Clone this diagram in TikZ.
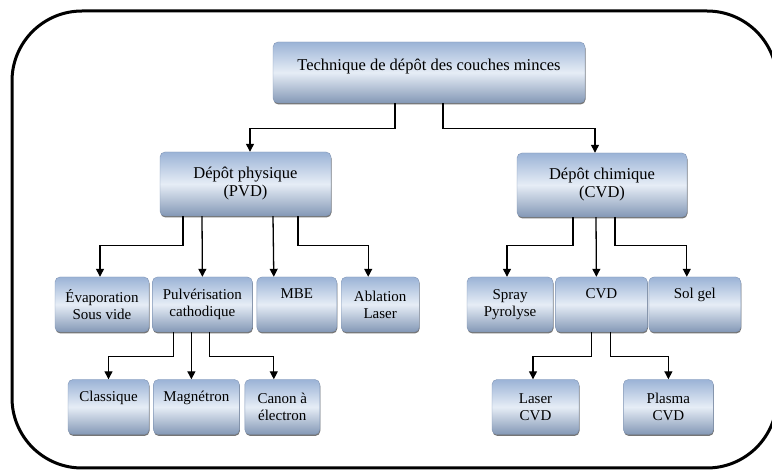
\documentclass[tikz,border=0pt]{standalone}
\usepackage{fontspec}
\setmainfont{Liberation Serif}
\usetikzlibrary{arrows.meta, positioning, shadows}

\definecolor{boxedge}{HTML}{9BB3D6}
\definecolor{boxmid}{HTML}{E6EDF6}
\definecolor{boxline}{HTML}{8196B6}

\begin{document}
\begin{tikzpicture}[
x=1pt, y=-1pt,
box/.style={draw=boxline, rounded corners=5pt, top color=boxedge, bottom color=boxedge!85!black, middle color=boxmid, align=center, inner sep=0pt, drop shadow={shadow xshift=0.5pt, shadow yshift=-1.5pt, fill=black!60, opacity=0.9}},
bigbox/.style={box, font=\fontsize{16.5}{18}\selectfont},
smallbox/.style={box, minimum height=55pt, font=\fontsize{15}{17}\selectfont},
arrow/.style={-{Triangle[length=8pt, width=8pt]}, line width=1.3pt}
]
\useasboundingbox (0,0) rectangle (772,470);
\draw[line width=3pt, rounded corners=70pt] (12,11) rectangle (777,468);

% main levels
\node[bigbox, minimum width=312pt, minimum height=61pt] (tech) at (429,72.5) {Technique de dépôt des couches minces\\[-7pt]\strut};
\node[bigbox, minimum width=171pt, minimum height=64pt] (pvd) at (245.5,184) {Dépôt physique\\(PVD)};
\node[bigbox, minimum width=170pt, minimum height=64pt] (cvd) at (602,185) {Dépôt chimique\\(CVD)};

% PVD methods
\node[smallbox, minimum width=94pt] (evap) at (102,304.5) {Évaporation\\Sous vide};
\node[smallbox, minimum width=100pt, right=3pt of evap] (pulv) {Pulvérisation\\cathodique};
\node[smallbox, minimum width=80pt, right=4pt of pulv] (mbe) {MBE\\\strut};
\node[smallbox, minimum width=78pt, right=4pt of mbe] (ablation) {Ablation\\Laser};

% CVD methods
\node[smallbox, minimum width=86pt] (spray) at (510,304.5) {Spray\\Pyrolyse};
\node[smallbox, minimum width=92pt, right=2pt of spray] (cvdd) {CVD\\\strut};
\node[smallbox, minimum width=92pt, right=1pt of cvdd] (solgel) {Sol gel\\\strut};

% sub-methods
\node[smallbox, minimum width=81pt] (classique) at (108.5,407) {Classique\\\strut};
\node[smallbox, minimum width=86pt, right=4pt of classique] (magnetron) {Magnétron\\\strut};
\node[smallbox, minimum width=75pt, right=5pt of magnetron] (canon) {Canon à\\électron};
\node[smallbox, minimum width=87pt] (laser) at (535.5,407) {Laser\\CVD};
\node[smallbox, minimum width=90pt, right=44pt of laser] (plasma) {Plasma\\CVD};

\draw[arrow] ([xshift=-34pt]tech.south) -- ++(0,25) -| ([xshift=4.5pt]pvd.north);
\draw[arrow] ([xshift=14pt]tech.south) -- ++(0,25) -| ([xshift=-7pt]cvd.north);

\draw[arrow] ([xshift=-62.5pt]pvd.south) -- ++(0,29) -| ([xshift=-2pt]evap.north);
\draw[arrow] ([xshift=-43.5pt]pvd.south) -- (pulv.north);
\draw[arrow] ([xshift=27.5pt]pvd.south) -- ([xshift=-23pt]mbe.north);
\draw[arrow] ([xshift=52.5pt]pvd.south) -- ++(0,29) -| ([xshift=-12pt]ablation.north);

\draw[arrow] ([xshift=-29pt]cvd.south) -- ++(0,28) -| ([xshift=-3pt]spray.north);
\draw[arrow] ([xshift=-6pt]cvd.south) -- ([xshift=-5pt]cvdd.north);
\draw[arrow] ([xshift=13pt]cvd.south) -- ++(0,28) -| ([xshift=-8pt]solgel.north);

\draw[arrow] ([xshift=-29pt]pulv.south) -- ++(0,24) -| (classique.north);
\draw[arrow] ([xshift=-11pt]pulv.south) -- ([xshift=-5pt]magnetron.north);
\draw[arrow] ([xshift=7pt]pulv.south) -- ++(0,24) -| ([xshift=-8.5pt]canon.north);

\draw[arrow] ([xshift=-10pt]cvdd.south) -- ++(0,24) -| ([xshift=-2.5pt]laser.north);
\draw[arrow] ([xshift=9pt]cvdd.south) -- ++(0,24) -| (plasma.north);
\end{tikzpicture}
\end{document}
